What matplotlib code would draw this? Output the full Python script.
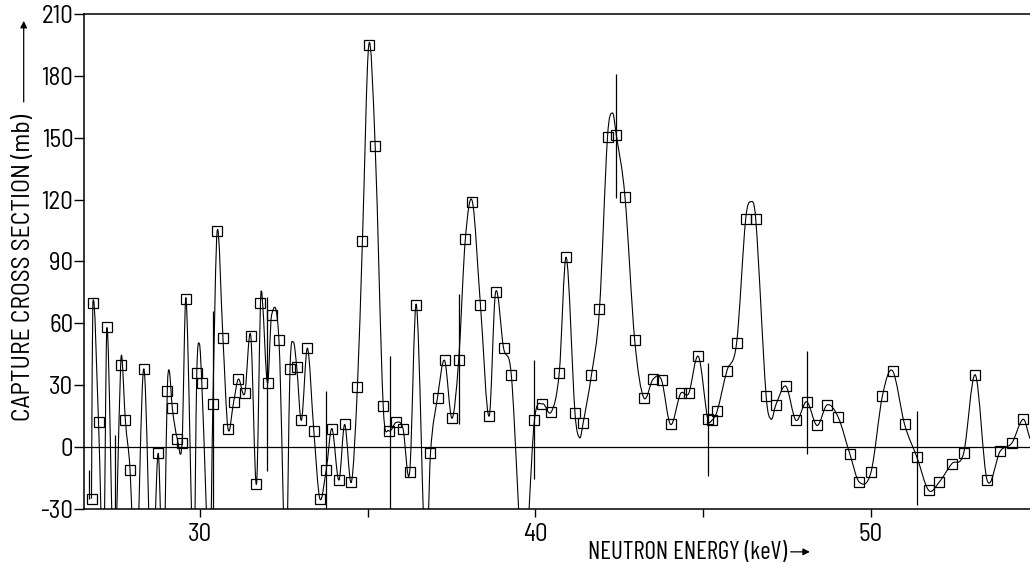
import numpy as np
import matplotlib
matplotlib.use('Agg')
import matplotlib.pyplot as plt
from matplotlib.path import Path
from matplotlib.patches import PathPatch, FancyArrowPatch

# measured capture cross sections
energy = [26.76, 26.80, 26.97, 27.22, 27.63, 27.77, 27.91, 28.32, 28.75, 29.02,
          29.17, 29.32, 29.46, 29.58, 29.90, 30.05, 30.38, 30.51, 30.68, 30.83,
          31.00, 31.14, 31.33, 31.51, 31.68, 31.80, 32.01, 32.13, 32.35, 32.68,
          32.88, 33.02, 33.20, 33.39, 33.57, 33.76, 33.93, 34.14, 34.31, 34.51,
          34.69, 34.84, 35.03, 35.22, 35.46, 35.62, 35.85, 36.05, 36.25, 36.45,
          36.87, 37.08, 37.29, 37.51, 37.71, 37.91, 38.12, 38.36, 38.62, 38.81,
          39.05, 39.28, 39.97, 40.21, 40.47, 40.71, 40.92, 41.18, 41.42, 41.67,
          41.91, 42.15, 42.41, 42.67, 42.96, 43.23, 43.51, 43.76, 44.03, 44.33,
          44.57, 44.86, 45.14, 45.26, 45.42, 45.71, 46.00, 46.27, 46.57, 46.88,
          47.17, 47.47, 47.77, 48.09, 48.40, 48.70, 49.03, 49.38, 49.66, 50.01,
          50.35, 50.65, 51.01, 51.38, 51.73, 52.04, 52.42, 52.77, 53.12, 53.47,
          53.86, 54.21, 54.55]
sigma = [-25, 70, 12, 58, 40, 13, -11, 38, -3, 27,
         19, 4, 2, 72, 36, 31, 21, 105, 53, 9,
         22, 33, 26, 54, -18, 70, 31, 64, 52, 38,
         39, 13, 48, 8, -25, -11, 9, -16, 11, -17,
         29, 100, 195, 146, 20, 8, 12, 9, -12, 69,
         -3, 24, 42, 14, 42, 101, 119, 69, 15, 75,
         48, 35, 13, 21, 17, 36, 92, 16.5, 11.5, 35,
         67, 150.5, 151.5, 121.5, 52, 24, 33, 32.5, 11, 26,
         26, 44, 13.5, 13, 17.5, 37, 50.5, 110.5, 110.5, 25,
         20.5, 29.5, 13, 22, 10.5, 20.5, 14.5, -3.5, -17, -12,
         25, 37, 11, -5, -21, -17, -8, -3, 35, -16,
         -2, 2, 13.5]

# turning points of the fitted curve between the measured points
fit_energy = [27.12, 27.43, 27.67, 28.08, 28.56, 28.90, 29.08, 29.81, 29.98,
              30.29, 31.85, 32.56, 32.78, 36.73, 39.65, 41.32, 42.30, 46.42,
              47.03, 54.75]
fit_sigma = [-60, -60, 43, -70, -70, -70, 37, -60, 50,
             -60, 73, -60, 51, -60, -60, 4.5, 162, 119,
             13.5, 4]

# vertical uncertainty bars
bar_energy = [26.68, 27.47, 30.37, 32.00, 33.74, 35.65, 37.72, 39.97, 42.41,
              45.16, 48.10, 51.38]
bar_low = [-25, -40, -35, -11.6, -40, -40, 11, -15.6, 121,
           -14, -3.5, -28]
bar_high = [-11, 6, 66, 73, 27, 44, 74, 42.4, 181,
            41, 46.4, 17.4]

y_ticks = [-30, 0, 30, 60, 90, 120, 150, 180, 210]
x_ticks = [30, 35, 40, 45, 50]
x_tick_labels = ['30', '', '40', '', '50']


def hermite_path(x, y):
    # piecewise cubic through the knots, slopes from neighbouring knots
    x = np.asarray(x, float)
    y = np.asarray(y, float)
    m = np.empty_like(y)
    m[1:-1] = (y[2:] - y[:-2]) / (x[2:] - x[:-2])
    m[0] = (y[1] - y[0]) / (x[1] - x[0])
    m[-1] = (y[-1] - y[-2]) / (x[-1] - x[-2])
    verts = [(x[0], y[0])]
    codes = [Path.MOVETO]
    for i in range(len(x) - 1):
        h = x[i + 1] - x[i]
        verts += [(x[i] + h / 3, y[i] + m[i] * h / 3),
                  (x[i + 1] - h / 3, y[i + 1] - m[i + 1] * h / 3),
                  (x[i + 1], y[i + 1])]
        codes += [Path.CURVE4] * 3
    return Path(verts, codes)


semi = ['Barlow Semi Condensed', 'DejaVu Sans']
narrow = ['Barlow Condensed', 'DejaVu Sans']
plt.rcParams['font.family'] = semi
plt.rcParams['axes.unicode_minus'] = False

fig = plt.figure(figsize=(10.30, 5.66), dpi=100)
ax = fig.add_axes([0.082, 0.1007, 0.918, 0.8746])

curve_x = np.concatenate([energy, fit_energy])
curve_y = np.concatenate([sigma, fit_sigma])
order = np.argsort(curve_x, kind='stable')
curve = PathPatch(hermite_path(curve_x[order], curve_y[order]),
                  fill=False, edgecolor='black', linewidth=0.8)
ax.add_patch(curve)

ax.vlines(bar_energy, bar_low, bar_high, colors='black', linewidth=0.9)
ax.axhline(0, color='black', linewidth=0.9)
ax.plot(energy, sigma, linestyle='none', marker='s', markersize=6.8,
        markerfacecolor='none', markeredgecolor='black', markeredgewidth=0.9)

ax.set_xlim(26.55, 54.75)
ax.set_ylim(-30, 210)
ax.set_yticks(y_ticks)
ax.set_xticks(x_ticks)
ax.set_xticklabels(x_tick_labels)
ax.tick_params(axis='both', direction='out', width=1, labelsize=18,
               colors='black')
ax.tick_params(axis='y', length=7, pad=1)
ax.tick_params(axis='x', length=6, pad=4)
ax.spines['right'].set_visible(False)
for side in ['left', 'bottom', 'top']:
    ax.spines[side].set_linewidth(1.1)

# axis titles with their direction arrows
fig.text(0.023, 0.527, 'CAPTURE CROSS SECTION (mb)', rotation=90,
         ha='center', va='center', fontsize=18.5)
fig.patches.append(FancyArrowPatch(
    (0.023, 0.815), (0.023, 0.968), transform=fig.transFigure,
    arrowstyle='-|>', mutation_scale=10, color='black', linewidth=0.9))

fig.text(0.571, 0.023, 'NEUTRON ENERGY (keV)', ha='left', va='center',
         fontsize=18, family=narrow)
fig.patches.append(FancyArrowPatch(
    (0.765, 0.025), (0.789, 0.025), transform=fig.transFigure,
    arrowstyle='-|>', mutation_scale=10, color='black', linewidth=0.9))

fig.savefig('out.png', dpi=100)
